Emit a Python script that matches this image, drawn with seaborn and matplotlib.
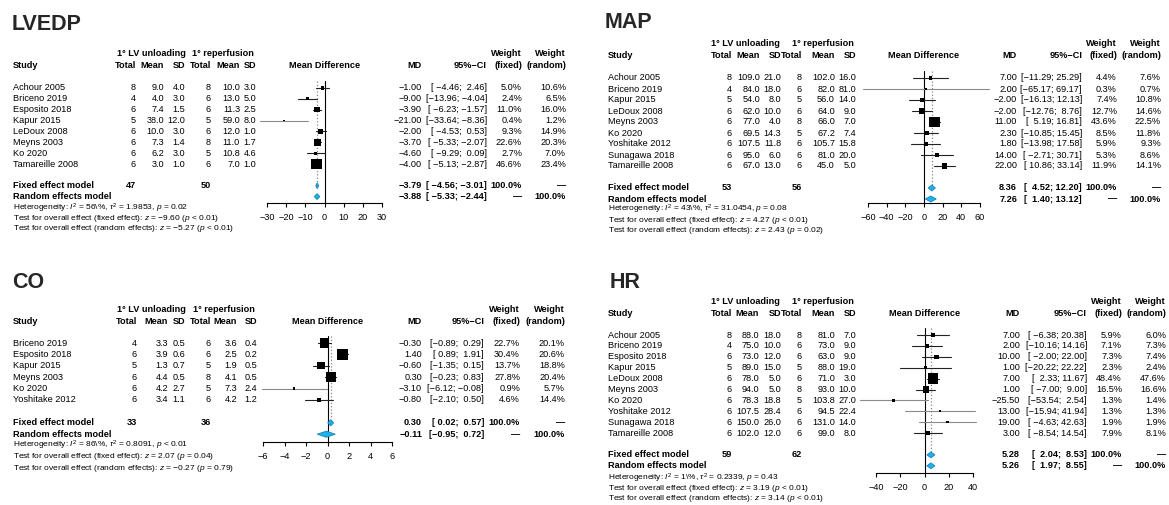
import matplotlib
matplotlib.use("Agg")
import matplotlib.pyplot as plt
import seaborn as sns

sns.set_theme(style="white")
plt.rcParams['font.family'] = ['Liberation Sans', 'DejaVu Sans']
plt.rcParams['mathtext.fontset'] = 'custom'
plt.rcParams['mathtext.rm'] = 'Liberation Sans'
plt.rcParams['mathtext.it'] = 'Liberation Sans:italic'
plt.rcParams['mathtext.bf'] = 'Liberation Sans:bold'

# ---------------- LVEDP ----------------
lvedp_study = ['Achour 2005', 'Briceno 2019', 'Esposito 2018', 'Kapur 2015',
               'LeDoux 2008', 'Meyns 2003', 'Ko 2020', 'Tamareille 2008']
lvedp_n1 = [8, 4, 6, 5, 6, 6, 6, 6]
lvedp_m1 = [9.0, 4.0, 7.4, 38.0, 10.0, 7.3, 6.2, 3.0]
lvedp_sd1 = [4.0, 3.0, 1.5, 12.0, 3.0, 1.4, 3.0, 1.0]
lvedp_n2 = [8, 6, 6, 5, 6, 8, 5, 6]
lvedp_m2 = [10.0, 13.0, 11.3, 59.0, 12.0, 11.0, 10.8, 7.0]
lvedp_sd2 = [3.0, 5.0, 2.5, 8.0, 1.0, 1.7, 4.6, 1.0]
lvedp_md = [-1.00, -9.00, -3.90, -21.00, -2.00, -3.70, -4.60, -4.00]
lvedp_lo = [-4.46, -13.96, -6.23, -33.64, -4.53, -5.33, -9.29, -5.13]
lvedp_hi = [2.46, -4.04, -1.57, -8.36, 0.53, -2.07, 0.09, -2.87]
lvedp_wf = [5.0, 2.4, 11.0, 0.4, 9.3, 22.6, 2.7, 46.6]
lvedp_wr = [10.6, 6.5, 16.0, 1.2, 14.9, 20.3, 7.0, 23.4]
lvedp_tot = [47, 50]
lvedp_fixed = [-3.79, -4.56, -3.01]
lvedp_random = [-3.88, -5.33, -2.44]
lvedp_het = ['56%', '1.9853', '= 0.02']
lvedp_tests = ['\u22129.60', '< 0.01', '\u22125.27', '< 0.01']
lvedp_ticks = [-30, -20, -10, 0, 10, 20, 30]

# ---------------- MAP ----------------
map_study = ['Achour 2005', 'Briceno 2019', 'Kapur 2015', 'LeDoux 2008', 'Meyns 2003',
             'Ko 2020', 'Yoshitake 2012', 'Sunagawa 2018', 'Tamareille 2008']
map_n1 = [8, 4, 5, 6, 6, 6, 6, 6, 6]
map_m1 = [109.0, 84.0, 54.0, 62.0, 77.0, 69.5, 107.5, 95.0, 67.0]
map_sd1 = [21.0, 18.0, 8.0, 10.0, 4.0, 14.3, 11.8, 6.0, 13.0]
map_n2 = [8, 6, 5, 6, 8, 5, 6, 6, 6]
map_m2 = [102.0, 82.0, 56.0, 64.0, 66.0, 67.2, 105.7, 81.0, 45.0]
map_sd2 = [16.0, 81.0, 14.0, 9.0, 7.0, 7.4, 15.8, 20.0, 5.0]
map_md = [7.00, 2.00, -2.00, -2.00, 11.00, 2.30, 1.80, 14.00, 22.00]
map_lo = [-11.29, -65.17, -16.13, -12.76, 5.19, -10.85, -13.98, -2.71, 10.86]
map_hi = [25.29, 69.17, 12.13, 8.76, 16.81, 15.45, 17.58, 30.71, 33.14]
map_wf = [4.4, 0.3, 7.4, 12.7, 43.6, 8.5, 5.9, 5.3, 11.9]
map_wr = [7.6, 0.7, 10.8, 14.6, 22.5, 11.8, 9.3, 8.6, 14.1]
map_tot = [53, 56]
map_fixed = [8.36, 4.52, 12.20]
map_random = [7.26, 1.40, 13.12]
map_het = ['43%', '31.0454', '= 0.08']
map_tests = ['4.27', '< 0.01', '2.43', '= 0.02']
map_ticks = [-60, -40, -20, 0, 20, 40, 60]

# ---------------- CO ----------------
co_study = ['Briceno 2019', 'Esposito 2018', 'Kapur 2015', 'Meyns 2003', 'Ko 2020', 'Yoshitake 2012']
co_n1 = [4, 6, 5, 6, 6, 6]
co_m1 = [3.3, 3.9, 1.3, 4.4, 4.2, 3.4]
co_sd1 = [0.5, 0.6, 0.7, 0.5, 2.7, 1.1]
co_n2 = [6, 6, 5, 8, 5, 6]
co_m2 = [3.6, 2.5, 1.9, 4.1, 7.3, 4.2]
co_sd2 = [0.4, 0.2, 0.5, 0.5, 2.4, 1.2]
co_md = [-0.30, 1.40, -0.60, 0.30, -3.10, -0.80]
co_lo = [-0.89, 0.89, -1.35, -0.23, -6.12, -2.10]
co_hi = [0.29, 1.91, 0.15, 0.83, -0.08, 0.50]
co_wf = [22.7, 30.4, 13.7, 27.8, 0.9, 4.6]
co_wr = [20.1, 20.6, 18.8, 20.4, 5.7, 14.4]
co_tot = [33, 36]
co_fixed = [0.30, 0.02, 0.57]
co_random = [-0.11, -0.95, 0.72]
co_het = ['86%', '0.8091', '< 0.01']
co_tests = ['2.07', '= 0.04', '\u22120.27', '= 0.79']
co_ticks = [-6, -4, -2, 0, 2, 4, 6]

# ---------------- HR ----------------
hr_study = ['Achour 2005', 'Briceno 2019', 'Esposito 2018', 'Kapur 2015', 'LeDoux 2008',
            'Meyns 2003', 'Ko 2020', 'Yoshitake 2012', 'Sunagawa 2018', 'Tamareille 2008']
hr_n1 = [8, 4, 6, 5, 6, 6, 6, 6, 6, 6]
hr_m1 = [88.0, 75.0, 73.0, 89.0, 78.0, 94.0, 78.3, 107.5, 150.0, 102.0]
hr_sd1 = [18.0, 10.0, 12.0, 15.0, 5.0, 5.0, 18.8, 28.4, 26.0, 12.0]
hr_n2 = [8, 6, 6, 5, 6, 8, 5, 6, 6, 6]
hr_m2 = [81.0, 73.0, 63.0, 88.0, 71.0, 93.0, 103.8, 94.5, 131.0, 99.0]
hr_sd2 = [7.0, 9.0, 9.0, 19.0, 3.0, 10.0, 27.0, 22.4, 14.0, 8.0]
hr_md = [7.00, 2.00, 10.00, 1.00, 7.00, 1.00, -25.50, 13.00, 19.00, 3.00]
hr_lo = [-6.38, -10.16, -2.00, -20.22, 2.33, -7.00, -53.54, -15.94, -4.63, -8.54]
hr_hi = [20.38, 14.16, 22.00, 22.22, 11.67, 9.00, 2.54, 41.94, 42.63, 14.54]
hr_wf = [5.9, 7.1, 7.3, 2.3, 48.4, 16.5, 1.3, 1.3, 1.9, 7.9]
hr_wr = [6.0, 7.3, 7.4, 2.4, 47.6, 16.6, 1.4, 1.3, 1.9, 8.1]
hr_tot = [59, 62]
hr_fixed = [5.28, 2.04, 8.53]
hr_random = [5.26, 1.97, 8.55]
hr_het = ['1%', '0.2339', '= 0.43']
hr_tests = ['3.19', '< 0.01', '3.14', '< 0.01']
hr_ticks = [-40, -20, 0, 20, 40]

panels = [
    dict(name='LVEDP', study=lvedp_study, n1=lvedp_n1, m1=lvedp_m1, sd1=lvedp_sd1, n2=lvedp_n2,
         m2=lvedp_m2, sd2=lvedp_sd2, md=lvedp_md, lo=lvedp_lo, hi=lvedp_hi, wf=lvedp_wf,
         wr=lvedp_wr, tot=lvedp_tot, fixed=lvedp_fixed, random=lvedp_random, het=lvedp_het,
         tests=lvedp_tests, ticks=lvedp_ticks),
    dict(name='MAP', study=map_study, n1=map_n1, m1=map_m1, sd1=map_sd1, n2=map_n2,
         m2=map_m2, sd2=map_sd2, md=map_md, lo=map_lo, hi=map_hi, wf=map_wf,
         wr=map_wr, tot=map_tot, fixed=map_fixed, random=map_random, het=map_het,
         tests=map_tests, ticks=map_ticks),
    dict(name='CO', study=co_study, n1=co_n1, m1=co_m1, sd1=co_sd1, n2=co_n2,
         m2=co_m2, sd2=co_sd2, md=co_md, lo=co_lo, hi=co_hi, wf=co_wf,
         wr=co_wr, tot=co_tot, fixed=co_fixed, random=co_random, het=co_het,
         tests=co_tests, ticks=co_ticks),
    dict(name='HR', study=hr_study, n1=hr_n1, m1=hr_m1, sd1=hr_sd1, n2=hr_n2,
         m2=hr_m2, sd2=hr_sd2, md=hr_md, lo=hr_lo, hi=hr_hi, wf=hr_wf,
         wr=hr_wr, tot=hr_tot, fixed=hr_fixed, random=hr_random, het=hr_het,
         tests=hr_tests, ticks=hr_ticks),
]

# layout in pixels for each panel
layouts = [
    dict(title=(12, 24), h1=54, h2=66, row0=88, pitch=10.86, axis_y=203,
         sx=13, cols=[136, 164, 185, 211, 240, 256], grp=[151, 223],
         fx=[267, 382], mdx=422, cix=487, wfx=522, wrx=566, foot=[208, 219, 229]),
    dict(title=(605, 23), h1=43, h2=56, row0=78, pitch=11.0, axis_y=203,
         sx=608, cols=[732, 760, 781, 802, 835, 856], grp=[745, 823],
         fx=[868, 980], mdx=1017, cix=1082, wfx=1117, wrx=1161, foot=[209, 220, 230]),
    dict(title=(12, 282), h1=309, h2=321, row0=343, pitch=11.4, axis_y=442,
         sx=13, cols=[137, 168, 185, 211, 237, 257], grp=[151, 224],
         fx=[263, 392], mdx=422, cix=484, wfx=520, wrx=565, foot=[445, 456, 468]),
    dict(title=(610, 283), h1=302, h2=313, row0=335, pitch=10.9, axis_y=473,
         sx=608, cols=[732, 759, 781, 802, 835, 856], grp=[745, 823],
         fx=[876, 973], mdx=1020, cix=1087, wfx=1122, wrx=1166, foot=[478, 488, 498]),
]

W, H = 1169, 505
FS = 6.6
SMALL = 6.0
DASH = '\u2014'
fig = plt.figure(figsize=(W / 100, H / 100), dpi=100)
bg = fig.add_axes([0, 0, 1, 1])
bg.set_xlim(0, W)
bg.set_ylim(H, 0)
bg.axis('off')


def num(v, d=1):
    return f"{v:.{d}f}".replace('-', '\u2212')


def txt(x, y, s, ha='right', bold=False, size=FS):
    bg.text(x, y, s, ha=ha, va='center', fontsize=size,
            fontweight='bold' if bold else 'normal', color='black')


def draw_panel(p, L):
    k = len(p['study'])
    ys = [L['row0'] + L['pitch'] * i for i in range(k)]
    y_fix = L['row0'] + L['pitch'] * (k + 1)
    y_ran = L['row0'] + L['pitch'] * (k + 2)

    bg.text(L['title'][0], L['title'][1], p['name'], ha='left', va='center',
            fontsize=15.5, fontweight='bold')

    # headers
    txt(L['grp'][0], L['h1'], '1\u00b0 LV unloading', ha='center', bold=True)
    txt(L['grp'][1], L['h1'], '1\u00b0 reperfusion', ha='center', bold=True)
    txt(L['sx'], L['h2'], 'Study', ha='left', bold=True)
    for x, s in zip(L['cols'], ['Total', 'Mean', 'SD', 'Total', 'Mean', 'SD']):
        txt(x, L['h2'], s, bold=True)
    txt(sum(L['fx']) / 2, L['h2'], 'Mean Difference', ha='center', bold=True)
    txt(L['mdx'], L['h2'], 'MD', bold=True)
    txt(L['cix'], L['h2'], '95%\u2212CI', bold=True)
    txt(L['wfx'], L['h1'], 'Weight', bold=True)
    txt(L['wfx'], L['h2'], '(fixed)', bold=True)
    txt(L['wrx'], L['h1'], 'Weight', bold=True)
    txt(L['wrx'], L['h2'], '(random)', bold=True)

    # CI padding like R's formatting
    los = [num(v, 2) for v in p['lo'] + [p['fixed'][1], p['random'][1]]]
    his = [num(v, 2) for v in p['hi'] + [p['fixed'][2], p['random'][2]]]
    wl = max(len(s) for s in los)
    wh = max(len(s) for s in his)

    def ci(lo, hi):
        a, b = num(lo, 2), num(hi, 2)
        return '[' + ' ' * (wl - len(a)) + a + '; ' + ' ' * (wh - len(b)) + b + ']'

    for i in range(k):
        y = ys[i]
        txt(L['sx'], y, p['study'][i], ha='left')
        vals = [str(p['n1'][i]), num(p['m1'][i]), num(p['sd1'][i]),
                str(p['n2'][i]), num(p['m2'][i]), num(p['sd2'][i])]
        for x, s in zip(L['cols'], vals):
            txt(x, y, s)
        txt(L['mdx'], y, num(p['md'][i], 2))
        txt(L['cix'], y, ci(p['lo'][i], p['hi'][i]))
        txt(L['wfx'], y, f"{p['wf'][i]:.1f}%")
        txt(L['wrx'], y, f"{p['wr'][i]:.1f}%")

    # summary rows
    txt(L['sx'], y_fix, 'Fixed effect model', ha='left', bold=True)
    txt(L['cols'][0], y_fix, str(p['tot'][0]), bold=True)
    txt(L['cols'][3], y_fix, str(p['tot'][1]), bold=True)
    txt(L['mdx'], y_fix, num(p['fixed'][0], 2), bold=True)
    txt(L['cix'], y_fix, ci(p['fixed'][1], p['fixed'][2]), bold=True)
    txt(L['wfx'], y_fix, '100.0%', bold=True)
    txt(L['wrx'], y_fix, DASH, bold=True)
    txt(L['sx'], y_ran, 'Random effects model', ha='left', bold=True)
    txt(L['mdx'], y_ran, num(p['random'][0], 2), bold=True)
    txt(L['cix'], y_ran, ci(p['random'][1], p['random'][2]), bold=True)
    txt(L['wfx'], y_ran, DASH, bold=True)
    txt(L['wrx'], y_ran, '100.0%', bold=True)

    het = p['het']
    t = p['tests']
    foot = [
        r"Heterogeneity: $I^2$ = " + het[0] + r", $\tau^2$ = " + het[1] + r", $p$ " + het[2],
        r"Test for overall effect (fixed effect): $z$ = " + t[0] + r" ($p$ " + t[1] + ")",
        r"Test for overall effect (random effects): $z$ = " + t[2] + r" ($p$ " + t[3] + ")",
    ]
    for fy, s in zip(L['foot'], foot):
        txt(L['sx'], fy, s.replace('%', r'\%'), ha='left', size=SMALL)

    # forest axes
    top_row = -0.6
    bot_row = (L['axis_y'] - L['row0']) / L['pitch']
    top_px = L['row0'] + top_row * L['pitch']
    ax = fig.add_axes([L['fx'][0] / W, 1 - L['axis_y'] / H,
                       (L['fx'][1] - L['fx'][0]) / W, (L['axis_y'] - top_px) / H])
    ax.patch.set_alpha(0)
    xmin, xmax = p['ticks'][0], p['ticks'][-1]
    ax.set_xlim(xmin, xmax)
    ax.set_ylim(bot_row, top_row)
    for s in ['top', 'left', 'right']:
        ax.spines[s].set_visible(False)
    ax.spines['bottom'].set_color('black')
    ax.spines['bottom'].set_linewidth(0.8)
    ax.set_xticks(p['ticks'])
    ax.set_xticklabels([num(v, 0) for v in p['ticks']])
    ax.set_yticks([])
    ax.tick_params(axis='x', bottom=True, length=3, width=0.8, color='black',
                   pad=4.5, labelsize=FS, labelcolor='black')

    rows = list(range(k))
    ax.axvline(0, color='black', lw=0.8, zorder=1)
    ax.plot([p['fixed'][0]] * 2, [top_row, k + 0.7], ls=':', color='#888888', lw=0.9, zorder=1)
    for i in range(k):
        out = p['lo'][i] < xmin or p['hi'][i] > xmax
        ax.plot([p['lo'][i], p['hi'][i]], [i, i], color='#8a8a8a' if out else '#222222',
                lw=0.8, clip_on=False, zorder=2)
    sns.scatterplot(x=p['md'], y=rows, size=p['wf'], sizes=(1, 60),
                    size_norm=(0, max(p['wf'])), marker='s', color='black',
                    linewidth=0, legend=False, ax=ax, zorder=3)
    ax.set_xlabel('')
    ax.set_ylabel('')

    for r, est in [(k + 1, p['fixed']), (k + 2, p['random'])]:
        h = 0.27
        ax.fill([est[1], est[0], est[2], est[0]], [r, r - h, r, r + h],
                facecolor='#1fb2e8', edgecolor='#1683b5', lw=0.6, zorder=4, clip_on=False)


for p, L in zip(panels, layouts):
    draw_panel(p, L)

fig.savefig('out.png', dpi=100)
